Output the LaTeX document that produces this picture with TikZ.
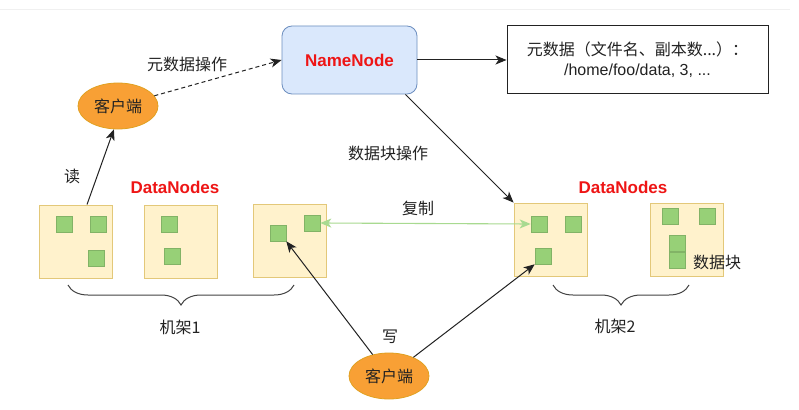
\documentclass[tikz,border=0pt]{standalone}
\usepackage{fontspec}
\setmainfont{Liberation Sans}
\newfontfamily\cjk{Noto Sans CJK SC}
\usetikzlibrary{arrows.meta,shapes.geometric,decorations.pathreplacing}
\definecolor{nnfill}{HTML}{DAE8FC}
\definecolor{nnline}{HTML}{6C8EBF}
\definecolor{cfill}{HTML}{F8A035}
\definecolor{cline}{HTML}{E0A020}
\definecolor{dnfill}{HTML}{FFF2CC}
\definecolor{dnline}{HTML}{E3C879}
\definecolor{blkfill}{HTML}{97D077}
\definecolor{blkline}{HTML}{82B366}
\definecolor{repl}{HTML}{A8DA90}
\definecolor{redtxt}{HTML}{EE1515}
\definecolor{txt}{HTML}{222222}
\tikzset{
  base/.style={font=\fontsize{16}{20}\selectfont, text=txt},
  namebox/.style={base, draw=nnline, fill=nnfill, rounded corners=10pt, minimum width=135pt, minimum height=68pt, line width=0.8pt},
  metabox/.style={base, draw=txt, fill=white, minimum width=261pt, minimum height=68pt, align=center, line width=1pt},
  client/.style={base, ellipse, draw=cline, fill=cfill, minimum width=80pt, minimum height=46pt, inner sep=0pt, line width=0.8pt},
  dnbox/.style={draw=dnline, fill=dnfill, minimum width=73pt, minimum height=73pt, inner sep=0pt, line width=0.9pt},
  blk/.style={draw=blkline, fill=blkfill, minimum size=16pt, inner sep=0pt, line width=0.6pt},
  lbl/.style={base, inner sep=0pt},
  redlbl/.style={font=\fontsize{17}{20}\selectfont\bfseries, text=redtxt, inner sep=0pt},
  tip/.style={Stealth[length=11pt,width=9pt,inset=3pt]},
  arr/.style={-{Stealth[length=11pt,width=9pt,inset=3pt]}, draw=txt, line width=1pt},
  bracestyle/.style={decorate, decoration={brace, mirror, amplitude=20pt, aspect=0.5}, draw=txt!85, line width=1pt}
}
\begin{document}
\begin{tikzpicture}[x=1pt,y=-1pt]
\useasboundingbox[fill=white] (0,0) rectangle (799,409);
\draw[black!6, line width=0.8pt] (0,9) -- (790,9);

% NameNode and metadata
\node[namebox] (nn) at (349.5,60) {\textcolor{redtxt}{\fontsize{17}{20}\selectfont\bfseries NameNode}};
\node[metabox] (meta) at (637.5,60) {{\cjk 元数据（文件名、副本数...）：}\\/home/foo/data, 3, ...};

% clients
\node[client] (c1) at (118,106) {\cjk 客户端};
\node[client] (c2) at (389,376) {\cjk 客户端};

% DataNode boxes
\node[dnbox] (b1) at (75.5,241.5) {};
\node[dnbox] (b2) at (180.5,241.5) {};
\node[dnbox] (b3) at (289.5,240.5) {};
\node[dnbox] (b4) at (550.5,239.5) {};
\node[dnbox] (b5) at (686.5,239.5) {};

% blocks
\node[blk] (s1a) at (64,224) {};
\node[blk] (s1b) at (98,224) {};
\node[blk] (s1c) at (96,258) {};
\node[blk] (s2a) at (169,224) {};
\node[blk] (s2b) at (172,256) {};
\node[blk] (s3a) at (278,233) {};
\node[blk] (s3b) at (312,223) {};
\node[blk] (s4a) at (539,224) {};
\node[blk] (s4b) at (573,224) {};
\node[blk] (s4c) at (543,256) {};
\node[blk] (s5a) at (670,216) {};
\node[blk] (s5b) at (707,216) {};
\node[blk] (s5c) at (677,243) {};
\node[blk] (s5d) at (677,260) {};

% labels
\node[lbl] (lmeta) at (187,64) {\cjk 元数据操作};
\node[lbl] (lread) at (72,176) {\cjk 读};
\node[redlbl] (dn1) at (175,187) {DataNodes};
\node[redlbl] (dn2) at (623,187) {DataNodes};
\node[lbl] (lblk) at (388,153) {\cjk 数据块操作};
\node[lbl] (lrep) at (418,208) {\cjk 复制};
\node[lbl] (lwrite) at (390,337) {\cjk 写};
\node[lbl] (ldata) at (717,262) {\cjk 数据块};
\node[lbl] (r1) at (180,327) {\cjk 机架1};
\node[lbl] (r2) at (615,326) {\cjk 机架2};

% connectors
\draw[arr] (nn.east) -- (meta.west);
\draw[arr, dashed, dash pattern=on 4pt off 3pt] (c1) -- (nn.west);
\draw[arr] ([xshift=11.5pt]b1.north) -- (c1.260);
\draw[arr] ([xshift=-12pt]nn.south east) -- (b4.north west);
\draw[{Stealth[length=11pt,width=9pt,inset=3pt]}-{Stealth[length=11pt,width=9pt,inset=3pt]}, draw=repl, line width=1.1pt] (s3b.east) -- (s4a.west);
\draw[arr] (c2) -- (s3a.south east);
\draw[arr] (c2) -- (s4c.south west);

% braces
\coordinate (k1a) at (68,285);
\coordinate (k1b) at (294,285);
\coordinate (k2a) at (553,285);
\coordinate (k2b) at (689,285);
\draw[bracestyle] (k1a) -- (k1b);
\draw[bracestyle] (k2a) -- (k2b);
\end{tikzpicture}
\end{document}
